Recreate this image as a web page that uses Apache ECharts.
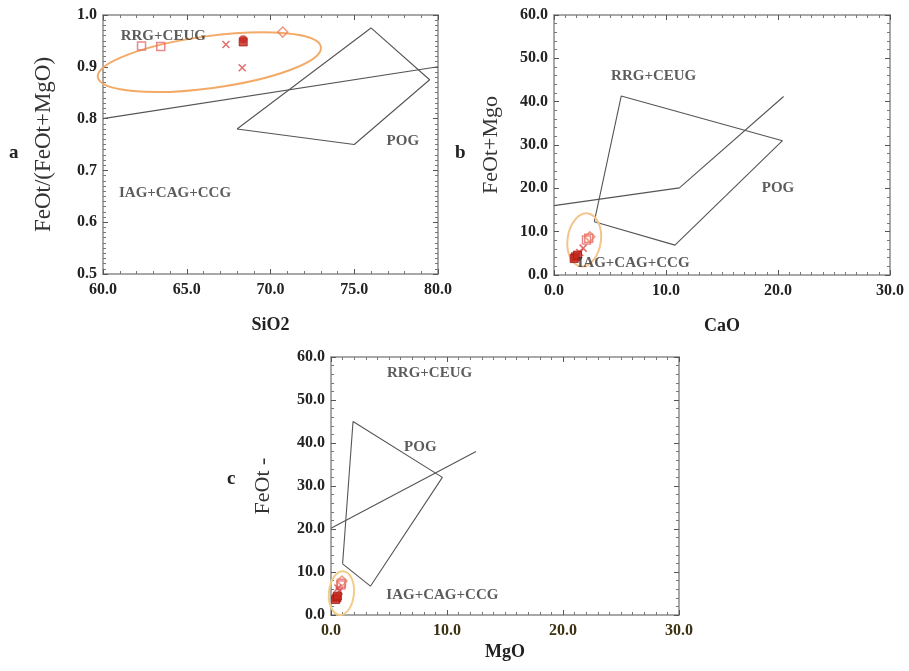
<!DOCTYPE html>
<html>
<head>
<meta charset="utf-8">
<script src="https://cdn.jsdelivr.net/npm/echarts@6/dist/echarts.min.js"></script>
<style>html,body{margin:0;padding:0;background:#fff;}#chart{width:909px;height:671px;}</style>
</head>
<body>
<div id="chart"></div>
<script>
// ---------- Panel a : SiO2 vs FeOt/(FeOt+MgO) ----------
const aDivider = [[60, 0.80], [80, 0.90]];
const aPOG = [[68, 0.78], [75, 0.75], [79.5, 0.875], [76, 0.975], [68, 0.78]];
const aEllipse = [[66.35, 0.909, 6.72, 0.0502, 7.7]]; // cx, cy, semi-x, semi-y, angle
const aOpenSquare = [[62.3, 0.940], [63.45, 0.939]];
const aOpenDiamond = [[70.73, 0.967]];
const aCross = [[67.34, 0.943], [68.31, 0.898]];
const aFilled = [[68.37, 0.948]];
const aFilledCircle = [[68.37, 0.953]];
const aLabels = [
  {name: 'RRG+CEUG', value: [63.6, 0.959]},
  {name: 'IAG+CAG+CCG', value: [64.3, 0.656]},
  {name: 'POG', value: [77.9, 0.757]}
];

// ---------- Panel b : CaO vs FeOt+MgO ----------
const bDivider = [[0, 16], [11.2, 20.1], [20.5, 41.2]];
const bPOG = [[3.6, 12.3], [6.0, 41.3], [20.4, 31.0], [10.8, 6.9], [3.6, 12.3]];
const bEllipse = [[2.7, 8.1, 1.49, 6.16, -8]];
const bOpenSquare = [[3.1, 8.5], [2.9, 8.1]];
const bOpenDiamond = [[3.2, 8.8]];
const bCross = [[2.6, 6.2], [2.3, 5.2]];
const bFilled = [[1.9, 4.2], [1.8, 3.8], [2.1, 4.6]];
const bLabels = [
  {name: 'RRG+CEUG', value: [8.9, 45.8]},
  {name: 'POG', value: [20.0, 20.0]},
  {name: 'IAG+CAG+CCG', value: [7.1, 2.7]}
];

// ---------- Panel c : MgO vs FeOt ----------
const cDivider = [[0, 20.2], [12.5, 38.0]];
const cPOG = [[1.0, 11.9], [1.9, 45.0], [9.6, 32.0], [3.4, 6.7], [1.0, 11.9]];
const cEllipse = [[0.9, 5.1, 1.08, 5.1, -5]];
const cOpenSquare = [[0.9, 7.4], [0.85, 7.0]];
const cOpenDiamond = [[0.95, 7.9]];
const cCross = [[0.7, 5.6], [0.6, 6.3]];
const cFilled = [[0.5, 4.0], [0.4, 3.6], [0.55, 4.4]];
const cLabels = [
  {name: 'RRG+CEUG', value: [8.5, 56.2]},
  {name: 'POG', value: [7.7, 39.1]},
  {name: 'IAG+CAG+CCG', value: [9.6, 4.65]}
];

// Axis ranges / ticks
const axesSpec = [
  {x: {min: 60, max: 80, interval: 5, minor: 5, name: 'SiO2'}, y: {min: 0.5, max: 1.0, interval: 0.1, minor: 10, name: 'FeOt/(FeOt+MgO)'}},
  {x: {min: 0, max: 30, interval: 10, minor: 10, name: 'CaO'}, y: {min: 0, max: 60, interval: 10, minor: 5, name: 'FeOt+Mgo'}},
  {x: {min: 0, max: 30, interval: 10, minor: 10, name: 'MgO'}, y: {min: 0, max: 60, interval: 10, minor: 5, name: 'FeOt -'}}
];

const SERIF = '"Liberation Serif","DejaVu Serif",serif';
const grids = [
  {left: 103, top: 15, width: 335, height: 259},
  {left: 554, top: 15, width: 336, height: 260},
  {left: 331, top: 357, width: 348, height: 258}
];
const xNameGap = [42, 42, 28];
const yNameGap = [48, 52, 57];
const yNameSize = [23, 22, 22];

const xAxis = [], yAxis = [];
axesSpec.forEach((s, g) => {
  const dbl = g === 2;
  ['bottom', 'top'].forEach((pos, k) => {
    xAxis.push({
      type: 'value', gridIndex: g, position: pos, min: s.x.min, max: s.x.max, interval: s.x.interval,
      axisLine: {show: true, onZero: false, lineStyle: {color: '#8c8c8c', width: 1.5}},
      axisTick: {show: true, inside: true, length: 5, lineStyle: {color: '#555', width: 1}},
      minorTick: {show: true, splitNumber: s.x.minor, length: 3, lineStyle: {color: '#777', width: 1}},
      splitLine: {show: false}, minorSplitLine: {show: false},
      axisLabel: {show: k === 0, margin: 8, fontFamily: SERIF, fontWeight: 'bold', fontSize: 16,
        color: dbl ? '#3b3010' : '#222',
        textShadowColor: dbl ? 'rgba(150,130,40,0.9)' : 'transparent', textShadowOffsetX: dbl ? 2 : 0, textShadowBlur: 0,
        formatter: v => v.toFixed(1)},
      name: k === 0 ? s.x.name : '', nameLocation: 'middle', nameGap: xNameGap[g],
      nameTextStyle: {fontFamily: SERIF, fontWeight: 'bold', fontSize: 18, color: '#222',
        textShadowColor: dbl ? 'rgba(120,100,40,0.8)' : 'transparent', textShadowOffsetX: dbl ? 2 : 0}
    });
  });
  ['left', 'right'].forEach((pos, k) => {
    yAxis.push({
      type: 'value', gridIndex: g, position: pos, min: s.y.min, max: s.y.max, interval: s.y.interval,
      axisLine: {show: true, onZero: false, lineStyle: {color: '#8c8c8c', width: 1.5}},
      axisTick: {show: true, inside: true, length: 5, lineStyle: {color: '#555', width: 1}},
      minorTick: {show: true, splitNumber: s.y.minor, length: 3, lineStyle: {color: '#777', width: 1}},
      splitLine: {show: false}, minorSplitLine: {show: false},
      axisLabel: {show: k === 0, margin: 6, fontFamily: SERIF, fontWeight: 'bold', fontSize: 16, color: '#222',
        formatter: v => v.toFixed(1)},
      name: k === 0 ? s.y.name : '', nameLocation: 'middle', nameGap: yNameGap[g], nameRotate: 90,
      nameTextStyle: {fontFamily: SERIF, fontSize: yNameSize[g], color: '#333'}
    });
  });
});

function lineSeries(data, g) {
  return {type: 'line', xAxisIndex: g * 2, yAxisIndex: g * 2, data: data, symbol: 'none', silent: true,
    lineStyle: {color: '#555', width: 1.1}, z: 2};
}
function ellipseSeries(data, g, color) {
  return {
    type: 'custom', xAxisIndex: g * 2, yAxisIndex: g * 2, data: data, z: 3, silent: true,
    encode: {x: 0, y: 1},
    renderItem: function (params, api) {
      const c = api.coord([api.value(0), api.value(1)]);
      const sx = api.size([api.value(2), 0])[0];
      const sy = api.size([0, api.value(3)])[1];
      return {
        type: 'ellipse', x: c[0], y: c[1], rotation: api.value(4) * Math.PI / 180,
        shape: {cx: 0, cy: 0, rx: sx, ry: sy},
        style: {fill: 'none', stroke: color, lineWidth: 2}
      };
    }
  };
}
const CROSS = 'path://M0,0L10,10M10,0L0,10';
function markerSeries(g, sq, dia, cross, filled, fcircle) {
  const base = {type: 'scatter', xAxisIndex: g * 2, yAxisIndex: g * 2, silent: true, z: 5};
  const out = [
    Object.assign({}, base, {data: sq, symbol: 'rect', symbolSize: 8,
      itemStyle: {color: 'rgba(255,255,255,0)', borderColor: '#e66a6a', borderWidth: 1.5}}),
    Object.assign({}, base, {data: dia, symbol: 'diamond', symbolSize: 10,
      itemStyle: {color: 'rgba(255,255,255,0)', borderColor: '#e8825e', borderWidth: 1.5}}),
    Object.assign({}, base, {data: cross, symbol: CROSS, symbolSize: 7,
      itemStyle: {color: 'rgba(255,255,255,0)', borderColor: '#d94848', borderWidth: 1.5}}),
    Object.assign({}, base, {data: filled, symbol: 'rect', symbolSize: 8,
      itemStyle: {color: '#c8281e', borderColor: '#a01810', borderWidth: 1}})
  ];
  if (fcircle) out.push(Object.assign({}, base, {data: fcircle, symbol: 'circle', symbolSize: 8,
    itemStyle: {color: '#c8281e'}}));
  return out;
}
function labelSeries(data, g, size) {
  return {type: 'scatter', xAxisIndex: g * 2, yAxisIndex: g * 2, data: data, symbolSize: 1, silent: true, z: 6,
    itemStyle: {color: 'rgba(0,0,0,0)'},
    label: {show: true, position: 'inside', formatter: p => p.name, fontFamily: SERIF, fontWeight: 'bold',
      fontSize: size, color: '#333'}};
}

const series = [].concat(
  [lineSeries(aDivider, 0), lineSeries(aPOG, 0), ellipseSeries(aEllipse, 0, '#f2aa66')],
  markerSeries(0, aOpenSquare, aOpenDiamond, aCross, aFilled, aFilledCircle),
  [labelSeries(aLabels, 0, 15)],
  [lineSeries(bDivider, 1), lineSeries(bPOG, 1), ellipseSeries(bEllipse, 1, '#f3c48c')],
  markerSeries(1, bOpenSquare, bOpenDiamond, bCross, bFilled),
  [labelSeries(bLabels, 1, 15)],
  [lineSeries(cDivider, 2), lineSeries(cPOG, 2), ellipseSeries(cEllipse, 2, '#f3cc88')],
  markerSeries(2, cOpenSquare, cOpenDiamond, cCross, cFilled),
  [labelSeries(cLabels, 2, 15)]
);

const chart = echarts.init(document.getElementById('chart'), null, {renderer: 'canvas'});
chart.setOption({
  backgroundColor: '#fff',
  animation: false,
  grid: grids,
  xAxis: xAxis,
  yAxis: yAxis,
  series: series,
  graphic: [
    {type: 'text', left: 9, top: 144, style: {text: 'a', font: 'bold 19px ' + SERIF, fill: '#222'}},
    {type: 'text', left: 455, top: 144, style: {text: 'b', font: 'bold 19px ' + SERIF, fill: '#222'}},
    {type: 'text', left: 227, top: 470, style: {text: 'c', font: 'bold 19px ' + SERIF, fill: '#222'}}
  ]
});
</script>
</body>
</html>
